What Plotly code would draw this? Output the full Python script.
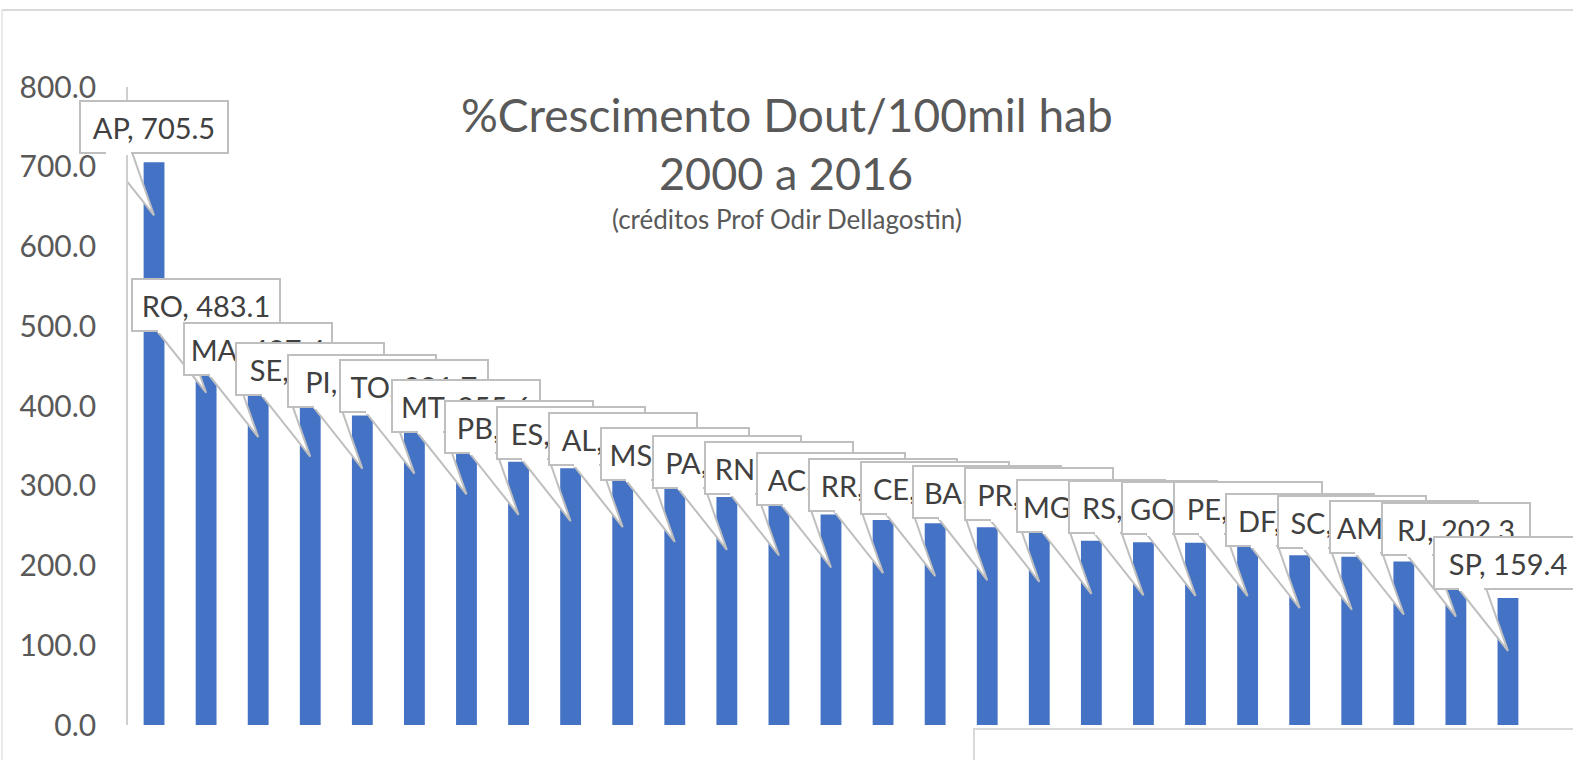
import plotly.graph_objects as go

# ---- data ----
states = ["AP", "RO", "MA", "SE", "PI", "TO", "MT", "PB", "ES", "AL", "MS", "PA", "RN", "AC",
          "RR", "CE", "BA", "PR", "MG", "RS", "GO", "PE", "DF", "SC", "AM", "RJ", "SP"]
growth = [705.5, 483.1, 427.4, 403.0, 388.0, 381.7, 355.6, 330.0, 322.0, 314.5, 296.0, 286.0,
          279.0, 264.0, 257.0, 253.0, 248.0, 246.0, 231.0, 229.0, 228.5, 228.0, 213.0, 211.0,
          205.0, 202.3, 159.4]
y_ticks = [0, 100, 200, 300, 400, 500, 600, 700, 800]
title_main = "%Crescimento Dout/100mil hab"
title_years = "2000 a 2016"
title_credit = "(créditos Prof Odir Dellagostin)"

FONT = "Lato"
BAR_COLOR = "#4472C4"
CALLOUT_LINE = "#BFBFBF"
TEXT_DARK = "#404040"
TEXT_GRAY = "#595959"

W, H = 1573, 760
L, R, T, B = 128, 39, 87, 35

fig = go.Figure()
fig.add_trace(go.Bar(x=states, y=growth, marker=dict(color=BAR_COLOR, line=dict(width=0)),
                     hoverinfo="x+y"))

shapes = []
annotations = []
for s, v in zip(states, growth):
    # callout pointer (wedge) anchored at the bar top, offsets in pixels
    shapes.append(dict(type="path", xref="x", yref="y", xsizemode="pixel", ysizemode="pixel",
                       xanchor=s, yanchor=v, path="M-50,10 L-22,10 L0,-53 Z",
                       fillcolor="white", line=dict(color=CALLOUT_LINE, width=2), layer="above"))
for s, v in zip(states, growth):
    # callout box
    annotations.append(dict(x=s, y=v, xref="x", yref="y", text=f"{s}, {v:.1f}", showarrow=False,
                            xanchor="center", yanchor="middle", yshift=35, width=140, height=44,
                            align="center", bgcolor="white", bordercolor=CALLOUT_LINE,
                            borderwidth=2, borderpad=3,
                            font=dict(family=FONT, size=29, color=TEXT_DARK)))
    # opening of the box border where the pointer joins it
    annotations.append(dict(x=s, y=v, xref="x", yref="y", text=" ", showarrow=False,
                            xanchor="center", yanchor="middle", xshift=-36, yshift=9,
                            width=25, height=4, borderpad=0, borderwidth=0, bgcolor="white",
                            font=dict(size=2, color="white")))

def px_to_paper_x(px):
    return (px - L) / (W - L - R)

def px_to_paper_y(py):
    return (H - B - py) / (H - T - B)

annotations.append(dict(x=px_to_paper_x(787), y=px_to_paper_y(114), xref="paper", yref="paper",
                        text=title_main, showarrow=False, xanchor="center", yanchor="middle",
                        font=dict(family=FONT, size=46, color=TEXT_GRAY)))
annotations.append(dict(x=px_to_paper_x(786), y=px_to_paper_y(173), xref="paper", yref="paper",
                        text=title_years, showarrow=False, xanchor="center", yanchor="middle",
                        font=dict(family=FONT, size=45, color=TEXT_GRAY)))
annotations.append(dict(x=px_to_paper_x(787), y=px_to_paper_y(219), xref="paper", yref="paper",
                        text=title_credit, showarrow=False, xanchor="center", yanchor="middle",
                        font=dict(family=FONT, size=26, color=TEXT_GRAY)))

# chart-area border lines and the partial box at the lower right of the screenshot
shapes.append(dict(type="line", xref="paper", yref="paper", x0=px_to_paper_x(2), x1=px_to_paper_x(1580),
                   y0=px_to_paper_y(10), y1=px_to_paper_y(10), line=dict(color="#D9D9D9", width=2)))
shapes.append(dict(type="line", xref="paper", yref="paper", x0=px_to_paper_x(2), x1=px_to_paper_x(2),
                   y0=px_to_paper_y(10), y1=px_to_paper_y(770), line=dict(color="#E3E3E3", width=1.5)))
shapes.append(dict(type="rect", xref="paper", yref="paper", x0=px_to_paper_x(974), x1=px_to_paper_x(1590),
                   y0=px_to_paper_y(729), y1=px_to_paper_y(780), line=dict(color="#D9D9D9", width=2),
                   fillcolor="rgba(0,0,0,0)"))

fig.update_layout(
    width=W, height=H,
    margin=dict(l=L, r=R, t=T, b=B, pad=0),
    paper_bgcolor="white", plot_bgcolor="white",
    showlegend=False,
    bargap=0.6,
    font=dict(family=FONT, color=TEXT_GRAY),
    shapes=shapes,
    annotations=annotations,
    xaxis=dict(range=[-0.5, len(states) - 0.5], autorange=False, showticklabels=False,
               showgrid=False, zeroline=False, showline=False, ticks=""),
    yaxis=dict(range=[0, 800], autorange=False, tickvals=y_ticks, tickformat=".1f", showgrid=False,
               zeroline=False, showline=True, linecolor="#CFCFCF", linewidth=1.5, ticks="",
               ticklabelstandoff=24, tickfont=dict(family=FONT, size=30, color=TEXT_GRAY)),
)

fig.write_html("out.html", config={"displayModeBar": False},
               post_script="document.body.style.margin='0';")
